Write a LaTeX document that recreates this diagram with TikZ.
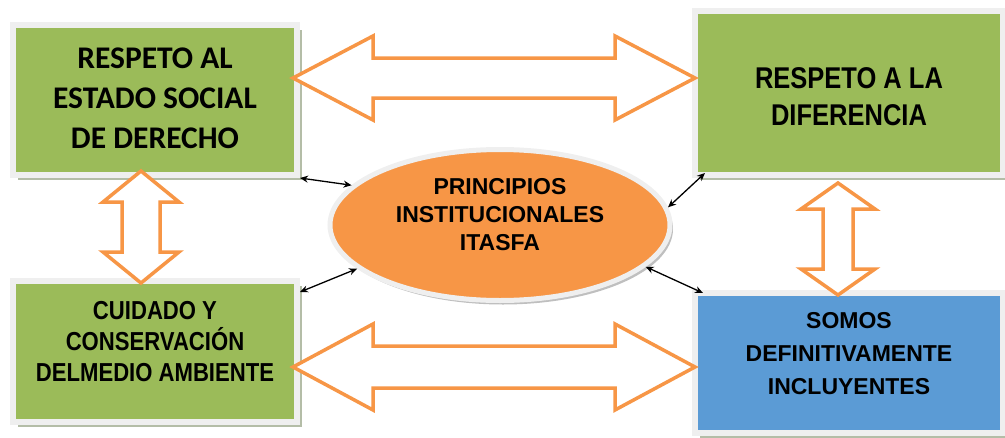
\documentclass[tikz,border=0pt]{standalone}
\usepackage{fontspec}
\setmainfont{Liberation Sans}
\newfontfamily\calfont{Carlito}
\newfontfamily\narrowfont[FakeStretch=0.85]{Liberation Sans}
\usetikzlibrary{calc,shapes.geometric,shadows,arrows.meta}
\definecolor{boxgreen}{HTML}{9BBB59}
\definecolor{boxblue}{HTML}{5B9BD5}
\definecolor{ppioorange}{HTML}{F79646}
\definecolor{framegrey}{HTML}{EFEFEF}
\definecolor{shadowgrey}{HTML}{B4BDA7}
% horizontal block arrow: left tip, right tip, head half, shaft half, head length
\newcommand{\harrow}[5]{\draw[blockarrow] (#1) -- ($(#1)+(#5,-#3)$) -- ($(#1)+(#5,-#4)$) -- ($(#2)+(-#5,-#4)$) -- ($(#2)+(-#5,-#3)$) -- (#2) -- ($(#2)+(-#5,#3)$) -- ($(#2)+(-#5,#4)$) -- ($(#1)+(#5,#4)$) -- ($(#1)+(#5,#3)$) -- cycle;}
% vertical block arrow: top tip, bottom tip, head half, shaft half, head length
\newcommand{\varrow}[5]{\draw[blockarrow] (#1) -- ($(#1)+(#3,#5)$) -- ($(#1)+(#4,#5)$) -- ($(#2)+(#4,-#5)$) -- ($(#2)+(#3,-#5)$) -- (#2) -- ($(#2)+(-#3,-#5)$) -- ($(#2)+(-#4,-#5)$) -- ($(#1)+(-#4,#5)$) -- ($(#1)+(-#3,#5)$) -- cycle;}
\tikzset{
	principle/.style={draw=framegrey, line width=6pt, fill=boxgreen,
		drop shadow={shadow xshift=5pt, shadow yshift=-5pt, fill=shadowgrey, opacity=1}},
	ppiostyle/.style={ellipse, draw=framegrey, line width=5pt, fill=ppioorange,
		drop shadow={shadow xshift=3pt, shadow yshift=-4pt, fill=black!25, opacity=1}},
	blockarrow/.style={draw=ppioorange, line width=3.5pt, fill=white, line join=miter},
	link/.style={{Stealth[length=8pt,width=7pt]}-{Stealth[length=8pt,width=7pt]}, line width=1.3pt, black},
	boxtext/.style={align=center, text=black}
}
\begin{document}
\begin{tikzpicture}[x=1pt,y=-1pt]
	\useasboundingbox (0,0) rectangle (1005,437);
	%%%%% BOXES %%%%%
	\node[principle, minimum width=284, minimum height=150] (estado) at (155,100) {};
	\node[principle, minimum width=308, minimum height=164] (respeto) at (849,93) {};
	\node[principle, minimum width=284, minimum height=141] (cuidado) at (155,351.5) {};
	\node[principle, fill=boxblue, minimum width=308, minimum height=140] (somos) at (849,363) {};
	\node[ppiostyle, minimum width=340, minimum height=151] (ppio) at (500,225) {};
	
	\node[boxtext, font=\calfont\bfseries\fontsize{31.5}{40}\selectfont] (estado-txt) at (155,98) {RESPETO AL\\ESTADO SOCIAL\\DE DERECHO};
	\node[boxtext, font=\narrowfont\bfseries\fontsize{30}{37}\selectfont] (respeto-txt) at (849,97) {RESPETO A LA\\DIFERENCIA};
	\node[boxtext, font=\narrowfont\bfseries\fontsize{26}{31}\selectfont] (cuidado-txt) at (155,342) {CUIDADO Y\\CONSERVACIÓN\\DELMEDIO AMBIENTE};
	\node[boxtext, font=\bfseries\fontsize{23}{33}\selectfont] (somos-txt) at (849,354) {SOMOS\\DEFINITIVAMENTE\\INCLUYENTES};
	\node[boxtext, font=\bfseries\fontsize{23}{28}\selectfont] (ppio-txt) at (500,215) {PRINCIPIOS\\INSTITUCIONALES\\ITASFA};
	
	%%%%% BLOCK ARROWS %%%%%
	\coordinate (top-l) at ($(estado.east)+(-7,-22)$);
	\coordinate (top-r) at ($(respeto.west)+(3,-15)$);
	\coordinate (bot-l) at ($(cuidado.east)+(-7,15.5)$);
	\coordinate (bot-r) at ($(somos.west)+(3,4)$);
	\coordinate (left-t) at ($(estado.south)+(-14,-7)$);
	\coordinate (left-b) at ($(cuidado.north)+(-14,5)$);
	\coordinate (right-t) at ($(respeto.south)+(-11,5)$);
	\coordinate (right-b) at ($(somos.north)+(-11,5)$);
	
	\harrow{top-l}{top-r}{42}{20}{80}
	\harrow{bot-l}{bot-r}{43}{21}{80}
	\varrow{left-t}{left-b}{38}{19}{31}
	\varrow{right-t}{right-b}{37}{15}{26}
	
	%%%%% LINKS %%%%%
	\draw[link] (estado.south east) -- (ppio.165);
	\draw[link] ($(cuidado.north east)+(0,14)$) -- (ppio.197);
	\draw[link] ($(respeto.south west)+(13,-5)$) -- (ppio.6);
	\draw[link] ($(somos.north west)+(11,3)$) -- (ppio.344);
\end{tikzpicture}
\end{document}
